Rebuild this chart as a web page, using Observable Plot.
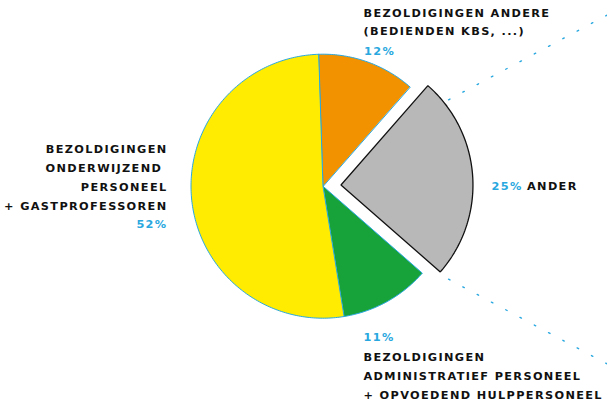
<!DOCTYPE html>
<html>
<head>
<meta charset="utf-8">
<script src="https://cdn.jsdelivr.net/npm/d3@7"></script>
<script src="https://cdn.jsdelivr.net/npm/@observablehq/plot@0.6"></script>
<style>
  html, body { margin: 0; padding: 0; background: #fff; }
  #chart svg { display: block; }
</style>
</head>
<body>
<div id="chart"></div>
<script>
// ---- data ----
const categories = [
  "Bezoldigingen andere (bedienden KBS, ...)",
  "Ander",
  "Bezoldigingen administratief personeel + opvoedend hulppersoneel",
  "Bezoldigingen onderwijzend personeel + gastprofessoren"
];
const shares = [12, 25, 11, 52];
const percentLabels = ["12%", "25%", "11%", "52%"];
const sliceColors = ["#F39200", "#B8B8B8", "#17A33A", "#FFEC00"];
const exploded = [false, true, false, false];
const labelLinesTop = ["BEZOLDIGINGEN ANDERE", "(BEDIENDEN KBS, ...)"];
const labelLinesRight = ["ANDER"];
const labelLinesBottom = ["BEZOLDIGINGEN", "ADMINISTRATIEF PERSONEEL", "+ OPVOEDEND HULPPERSONEEL"];
const labelLinesLeft = ["BEZOLDIGINGEN", "ONDERWIJZEND\u00a0", "PERSONEEL", "+ GASTPROFESSOREN"];

// ---- geometry (1 unit = 1 px, pie centre at origin, y up) ----
const W = 607, H = 403;
const cx = 322.5, cy = 185.7, R = 132;
const blue = "#29A8E0";
const font = "DejaVu Sans";
const fs = 11.3;
const ls = "1.35px";

const pie = d3.pie().sort(null).value(d => d)
  .startAngle(-0.035).endAngle(2 * Math.PI - 0.035)(shares);

const slicePts = [];
pie.forEach((p, i) => {
  const mid = (p.startAngle + p.endAngle) / 2;
  const off = exploded[i] ? 18 : 0;
  const ox = off * Math.sin(mid), oy = off * Math.cos(mid);
  slicePts.push({k: i, x: ox, y: oy});
  const n = Math.max(8, Math.ceil((p.endAngle - p.startAngle) * 60));
  for (let j = 0; j <= n; j++) {
    const a = p.startAngle + (p.endAngle - p.startAngle) * j / n;
    slicePts.push({k: i, x: ox + R * Math.sin(a), y: oy + R * Math.cos(a)});
  }
});

// connector rays from behind the exploded slice toward the right edge
const apex = {x: -42.5, y: -3.3};
const spread = 28.1 * Math.PI / 180;
const connectors = [];
[1, -1].forEach((s, idx) => {
  const ang = s * spread; // math angle, axis horizontal to the right
  const dx = Math.cos(ang), dy = Math.sin(ang);
  const t0 = 190.5, t1 = (W - cx - apex.x) / dx;
  connectors.push({k: idx, x: apex.x + dx * t0, y: apex.y + dy * t0});
  connectors.push({k: idx, x: apex.x + dx * t1, y: apex.y + dy * t1});
});

// text helpers: baseline in px (from top) -> data y for lineAnchor middle
const by = b => -(b - 0.32 * fs - cy);
const X = x => x - cx;

const texts = [];
labelLinesTop.forEach((t, i) => texts.push({t, x: X(363), y: by([16.8, 34.5][i]), a: "start", c: "#111"}));
texts.push({t: percentLabels[0], x: X(363.5), y: by(54.5), a: "start", c: blue});
texts.push({t: percentLabels[1], x: X(491), y: by(189.5), a: "start", c: blue});
labelLinesRight.forEach(t => texts.push({t, x: X(526.5), y: by(189.5), a: "start", c: "#111"}));
texts.push({t: percentLabels[2], x: X(363), y: by(340.7), a: "start", c: blue});
labelLinesBottom.forEach((t, i) => texts.push({t, x: X(363), y: by([360, 379.3, 398.3][i]), a: "start", c: "#111"}));
labelLinesLeft.forEach((t, i) => texts.push({t, x: X(167), y: by([152.7, 171.2, 190.3, 209.2][i]), a: "end", c: "#111"}));
texts.push({t: percentLabels[3], x: X(167), y: by(227.6), a: "end", c: blue});

const plot = Plot.plot({
  width: W, height: H,
  margin: 0,
  x: {domain: [-cx, W - cx], axis: null},
  y: {domain: [-(H - cy), cy], axis: null},
  style: {background: "#fff"},
  marks: [
    Plot.line(connectors, {x: "x", y: "y", z: "k", stroke: blue, strokeWidth: 1.4,
      strokeDasharray: "1.6 14.6"}),
    Plot.line(slicePts.filter(d => !exploded[d.k]), {x: "x", y: "y", z: "k", curve: "linear-closed",
      fill: d => sliceColors[d.k], stroke: blue, strokeWidth: 1, strokeLinejoin: "round"}),
    Plot.line(slicePts.filter(d => exploded[d.k]), {x: "x", y: "y", z: "k", curve: "linear-closed",
      fill: d => sliceColors[d.k], stroke: "#111", strokeWidth: 1.3, strokeLinejoin: "miter"}),
    Plot.text(texts.filter(d => d.a === "start"), {x: "x", y: "y", text: "t", fill: d => d.c,
      textAnchor: "start", fontFamily: font, fontWeight: "bold", fontSize: fs}),
    Plot.text(texts.filter(d => d.a === "end"), {x: "x", y: "y", text: "t", fill: d => d.c,
      textAnchor: "end", fontFamily: font, fontWeight: "bold", fontSize: fs})
  ]
});
plot.querySelectorAll("text").forEach(t => t.style.letterSpacing = ls);
document.getElementById("chart").appendChild(plot);
</script>
</body>
</html>
